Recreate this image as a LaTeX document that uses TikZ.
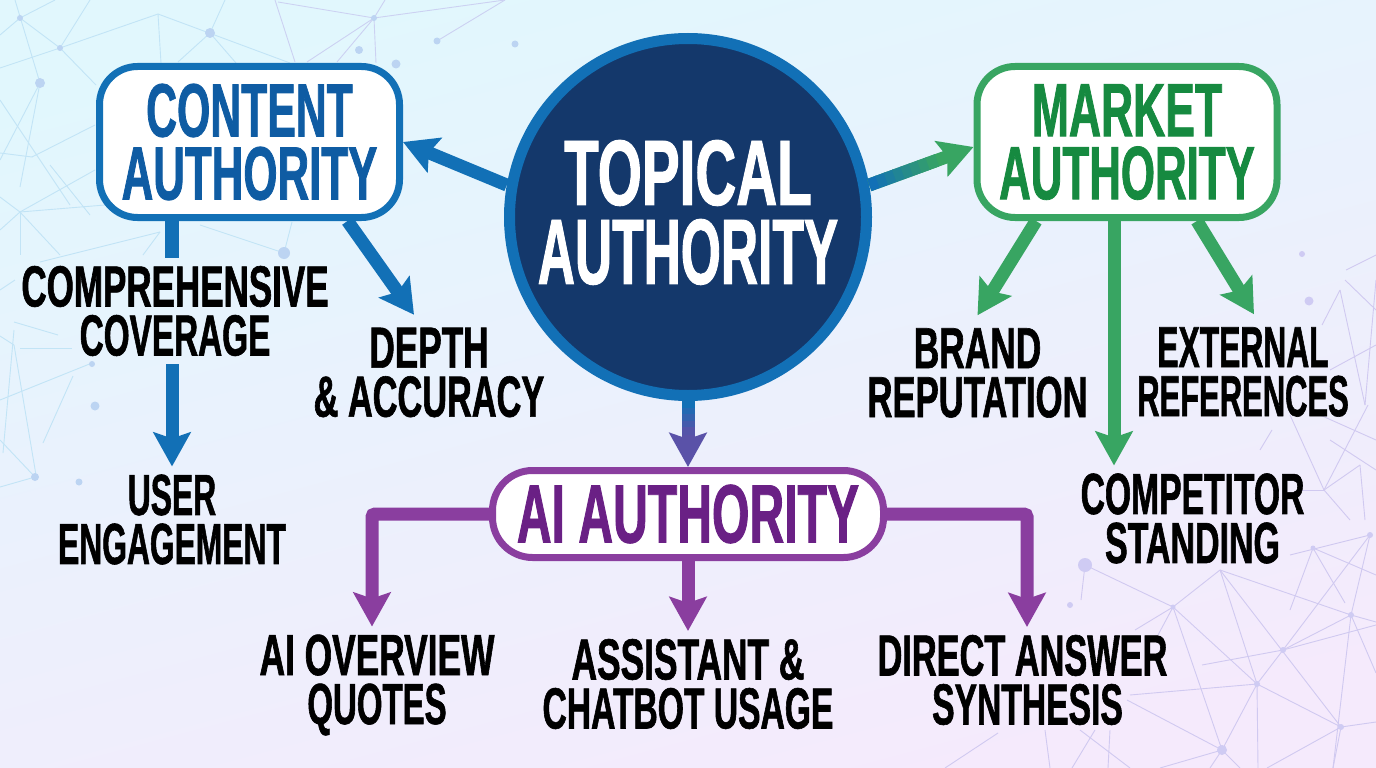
\documentclass[tikz,border=0pt]{standalone}
\usepackage{fontspec}
\setmainfont[FakeStretch=0.58,FakeBold=1]{Liberation Sans}
\usetikzlibrary{arrows.meta,calc}
\definecolor{bgcyan}{HTML}{E1F7FD}
\definecolor{bgmid}{HTML}{EFF5FE}
\definecolor{bgviolet}{HTML}{F5EAFC}
\definecolor{contentblue}{HTML}{1270B6}
\definecolor{contenttext}{HTML}{0F5CA3}
\definecolor{marketgreen}{HTML}{38A562}
\definecolor{markettext}{HTML}{168A40}
\definecolor{aipurple}{HTML}{8A3E9F}
\definecolor{aitext}{HTML}{6A2085}
\definecolor{topicfill}{HTML}{14386B}
\definecolor{netcyan}{HTML}{C2E4F6}
\definecolor{netlav}{HTML}{D0C9F0}
\definecolor{dotblue}{HTML}{BCD4F2}
\definecolor{dotlav}{HTML}{CFCBF3}
\newcommand{\wline}[2]{\scalebox{#1}[1]{#2}}
\tikzset{
  authbox/.style={draw, fill=white, line width=7pt, rounded corners=38pt, align=center, inner sep=0pt, font=\fontsize{75.6pt}{63pt}\selectfont\bfseries},
  leaflabel/.style={align=center, inner sep=0pt, outer sep=8pt, text=black, font=\fontsize{58pt}{49pt}\selectfont\bfseries},
  linkarrow/.style={line width=13pt, -{Stealth[length=34pt,width=37pt,inset=6pt]}},
  netline/.style={line width=0.9pt}
}
\begin{document}
\begin{tikzpicture}[x=1pt, y=-1pt]
  % Background
  \shade[left color=bgcyan, middle color=bgmid, right color=bgviolet, shading angle=15] (0,0) rectangle (1376,768);
  \useasboundingbox (0,0) rectangle (1376,768);
  % Network top left
  \foreach \ax/\ay/\bx/\by in {15/0/40/83, 20/18/60/48, 60/48/158/14, 158/14/161/63, 158/14/290/63, 210/33/178/62, 210/33/236/63, 210/33/225/0,
      60/48/0/68, 60/48/90/0, 60/48/96/85, 20/18/55/0, 20/18/0/35, 40/83/20/187, 40/83/0/160, 0/100/70/205, 32/157/95/125, 32/157/0/153,
      20/212/0/230, 20/212/105/205, 20/212/0/197, 20/212/20/255, 20/212/60/255, 20/212/95/170, 50/165/90/215, 160/232/40/262, 160/232/143/255,
      200/225/284/253, 284/253/292/222, 14/345/36/475, 14/345/0/336, 14/330/3/453, 14/322/58/335, 20/348/72/348, 0/400/92/363, 73/376/43/443, 0/440/35/477, 0/487/35/477, 0/290/15/280}
    \draw[netline, netcyan] (\ax,\ay) -- (\bx,\by);
  \foreach \ax/\ay/\bx/\by in {275/0/295/62, 278/2/374/18, 374/18/505/0, 374/18/307/62, 374/18/337/62, 374/18/376/63, 374/18/385/0, 437/41/505/0}
    \draw[netline, netlav!70!netcyan] (\ax,\ay) -- (\bx,\by);
  % Network bottom right
  \foreach \ax/\ay/\bx/\by in {1085/565/1173/607, 1085/565/1081/600, 1173/607/1220/570, 1173/607/1135/630, 1173/607/1158/635, 1173/607/1222/750, 1173/607/1257/684,
      1220/570/1257/684, 1220/570/1341/727, 1220/570/1351/615, 1351/615/1376/622, 1202/665/1283/650, 1283/650/1376/625, 1283/650/1351/615, 1283/650/1370/535, 1283/650/1257/684,
      1257/684/1222/750, 1257/684/1258/768, 1257/684/1130/695, 1257/684/1341/727, 1370/535/1351/615, 1351/615/1333/768, 1351/615/1376/673, 1313/548/1290/610, 1313/548/1345/603, 1290/555/1370/535, 1313/548/1376/575,
      1127/700/1222/750, 1222/750/1160/768, 1222/750/1210/768, 1222/750/1240/768, 1341/727/1267/768, 1341/727/1376/722, 1341/727/1333/768, 945/768/998/733, 1045/730/1050/768, 1095/730/1072/768, 1110/730/1108/768, 1080/730/1130/768,
      1346/270/1376/255, 1345/280/1376/310, 1340/290/1322/325, 1340/290/1365/405, 1376/280/1365/405, 1330/370/1376/345, 1290/415/1324/490, 1324/490/1368/405, 1320/415/1376/440, 1330/440/1376/470, 1360/465/1365/520, 1324/490/1350/520, 1300/490/1324/490, 1260/450/1272/430, 1324/490/1360/465}
    \draw[netline, netlav] (\ax,\ay) -- (\bx,\by);
  % Dots
  \foreach \x/\y/\r in {40/83/5, 210/33/5, 284/253/6, 20/18/3, 60/48/3, 92/364/3, 95/406/4.5, 79/482/3.5, 35/477/4, 359/50/4, 396/64/4.5, 437/41/3.5, 515/44/3.5, 374/18/3}
    \fill[dotblue] (\x,\y) circle (\r);
  \foreach \x/\y/\r in {1085/565/7, 1070/605/3, 1302/254/3, 1309/301/4.5, 1173/607/2.5, 1222/750/5, 1257/684/3, 1283/650/3, 1351/615/3, 1341/727/3, 1313/548/2.5, 1370/535/3}
    \fill[dotlav] (\x,\y) circle (\r);

  % Main nodes
  \node[circle, draw=contentblue, fill=topicfill, line width=11pt, minimum size=357pt, inner sep=0pt, align=center, text=white, text depth=10pt, font=\fontsize{93pt}{79pt}\selectfont\bfseries] (topic) at (688,217) {\wline{1.05}{TOPICAL}\\\wline{0.955}{AUTHORITY}};
  \node[authbox, draw=contentblue, text=contenttext, minimum width=300pt, minimum height=151pt] (content) at (249.5,142) {\wline{0.975}{CONTENT}\\AUTHORITY};
  \node[authbox, draw=marketgreen, text=markettext, minimum width=300pt, minimum height=151pt] (market) at (1127,142) {\wline{1.015}{MARKET}\\AUTHORITY};
  \node[authbox, draw=aipurple, text=aitext, minimum width=391pt, minimum height=87pt, rounded corners=40pt, font=\fontsize{83pt}{80pt}\selectfont\bfseries] (ai) at (688,514) {AI AUTHORITY};

  % Leaf labels
  \node[leaflabel] (comprehensive) at (175,311) {\wline{1.04}{COMPREHENSIVE}\\\wline{0.99}{COVERAGE}};
  \node[leaflabel] (depth) at (429,372.5) {\wline{1.045}{DEPTH}\\\wline{1.02}{\& ACCURACY}};
  \node[leaflabel] (user) at (172,519.5) {\wline{0.945}{USER}\\\wline{0.945}{ENGAGEMENT}};
  \node[leaflabel] (brand) at (977.5,373) {\wline{1.05}{BRAND}\\\wline{1.03}{REPUTATION}};
  \node[leaflabel] (external) at (1243,372) {\wline{0.945}{EXTERNAL}\\\wline{0.92}{REFERENCES}};
  \node[leaflabel] (competitor) at (1192.5,518.5) {COMPETITOR\\\wline{1.01}{STANDING}};
  \node[leaflabel] (overview) at (377,685) {\wline{1.05}{AI OVERVIEW}\\\wline{0.98}{QUOTES}};
  \node[leaflabel] (assistant) at (688,684) {\wline{1.05}{ASSISTANT \&}\\CHATBOT USAGE};
  \node[leaflabel] (direct) at (1022.5,680) {\wline{1.02}{DIRECT ANSWER}\\\hspace{10pt}\wline{1.0}{SYNTHESIS}};

  % Content links
  \draw[linkarrow, contentblue] (topic.170) -- (content.east);
  \draw[line width=14pt, contentblue] (content.south -| user) -- (comprehensive.north -| user);
  \draw[linkarrow, contentblue] (comprehensive.south -| user) -- (user.north);
  \draw[linkarrow, contentblue] ([xshift=98pt]content.south) -- ([xshift=-15pt,yshift=5pt]depth.north);
  % Market links
  \draw[linkarrow, marketgreen] (topic.10) -- ([yshift=-5pt]market.west);
  \foreach \p in {0,8,...,56} {
    \pgfmathtruncatemacro{\q}{100-\p*1.6}
    \draw[line width=13pt, contentblue!\q!marketgreen] ($(topic.10)!\p/100!([yshift=-5pt]market.west)$) -- ($(topic.10)!{(\p+9)/100}!([yshift=-5pt]market.west)$);
  }
  \draw[linkarrow, marketgreen] ([xshift=-91pt]market.south) -- ([yshift=5pt]brand.north);
  \draw[linkarrow, marketgreen] ([xshift=70pt]market.south) -- ([xshift=11pt,yshift=5pt]external.north);
  \draw[linkarrow, marketgreen] ([xshift=-13pt]market.south) -- ([xshift=-78.5pt]competitor.north);
  % AI links
  \draw[linkarrow, aipurple!60!contentblue] (topic.south) -- (ai.north);
  \foreach \p in {0,10,...,40} {
    \pgfmathtruncatemacro{\q}{100-\p*2}
    \draw[line width=13pt, contentblue!\q!aipurple!70!contentblue] ($(topic.south)!\p/100!(ai.north)$) -- ($(topic.south)!{(\p+11)/100}!(ai.north)$);
  }
  \draw[linkarrow, aipurple, rounded corners=3pt] (ai.west) -| ([xshift=-5pt]overview.north);
  \draw[linkarrow, aipurple] (ai.south) -- (assistant.north);
  \draw[linkarrow, aipurple, rounded corners=3pt] (ai.east) -| ([xshift=4.5pt]direct.north);
\end{tikzpicture}
\end{document}
